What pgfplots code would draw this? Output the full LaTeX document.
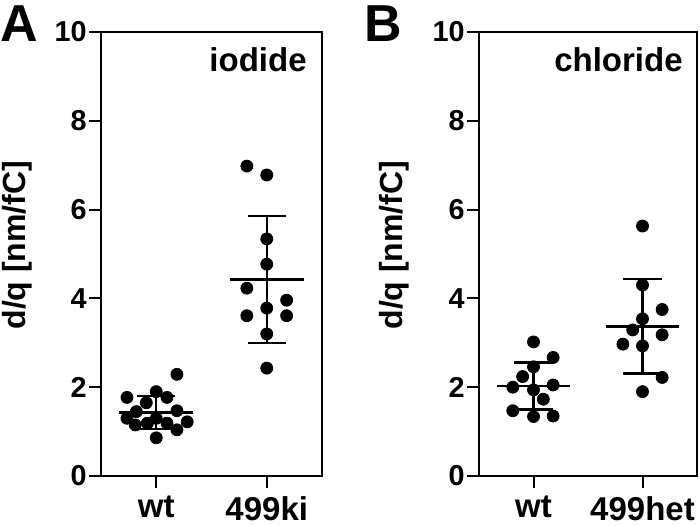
\documentclass[border=0pt]{standalone}
\usepackage{fontspec}
\setmainfont{Liberation Sans}
\usepackage{pgfplots}
\pgfplotsset{compat=1.18}
\begin{document}
\begin{tikzpicture}
\useasboundingbox (0,0) rectangle (350pt,262.5pt);
\pgfplotsset{
 panel/.style={
  scale only axis, width=110.5pt, height=222pt,
  xmin=-0.5, xmax=1.5, ymin=0, ymax=10,
  xtick={0,1}, ytick={0,2,4,6,8,10},
  tick align=outside, major tick length=6pt, tick pos=left,
  axis line style={line width=1pt}, every tick/.style={line width=1pt,black},
  /pgf/number format/assume math mode=true,
  yticklabel style={font=\fontsize{14.4}{16}\selectfont\bfseries, inner sep=1pt},
  xticklabel style={font=\fontsize{16.5}{18}\selectfont\bfseries, inner sep=1pt, yshift=-3pt},
  clip=false, anchor=south west,
 },
 mline/.style={black, line width=1.2pt, forget plot},
 dots/.style={only marks, mark=*, mark size=3pt, black, mark options={draw=black,fill=black}},
}
% Panel A
\begin{axis}[panel, at={(50.5pt,24.5pt)}, xticklabels={wt,499ki}]
\addplot[mline] coordinates {(-0.335,1.43) (0.335,1.43)};
\addplot[mline] coordinates {(0,1.06) (0,1.80)};
\addplot[mline] coordinates {(-0.17,1.80) (0.17,1.80)};
\addplot[mline] coordinates {(-0.17,1.06) (0.17,1.06)};
\addplot[mline] coordinates {(0.665,4.43) (1.335,4.43)};
\addplot[mline] coordinates {(1,3.00) (1,5.86)};
\addplot[mline] coordinates {(0.83,5.86) (1.17,5.86)};
\addplot[mline] coordinates {(0.83,3.00) (1.17,3.00)};
\addplot[dots] coordinates {
(0.187,2.29) (0,1.90) (-0.265,1.77) (0.097,1.77) (-0.09,1.65)
(-0.18,1.45) (0.187,1.47) (-0.265,1.30) (0.28,1.22) (-0.19,1.15)
(-0.08,1.19) (0,1.30) (0.097,1.19) (0.187,1.04) (0,0.86)};
\addplot[dots] coordinates {
(0.82,6.98) (1,6.78) (1,5.34) (1,4.77) (0.82,4.23) (1.18,3.96)
(1,3.78) (0.82,3.61) (1.18,3.61) (1,3.20) (1,2.43)};
\node[anchor=north east, inner sep=0pt, font=\fontsize{16.5}{18}\selectfont\bfseries] at (rel axis cs:1,1) [xshift=-7.5pt, yshift=-7.5pt] {iodide};
\node[xshift=-34pt, rotate=90, anchor=south, inner sep=0pt, font=\fontsize{16}{18}\selectfont\bfseries] at (rel axis cs:0,0.52) {d/q [nm/fC]};
\end{axis}
% Panel B
\begin{axis}[panel, at={(239.5pt,24.5pt)}, width=109pt, xticklabels={wt,499het}]
\addplot[mline] coordinates {(-0.335,2.03) (0.335,2.03)};
\addplot[mline] coordinates {(0,1.50) (0,2.56)};
\addplot[mline] coordinates {(-0.175,2.56) (0.175,2.56)};
\addplot[mline] coordinates {(-0.175,1.50) (0.175,1.50)};
\addplot[mline] coordinates {(0.665,3.37) (1.335,3.37)};
\addplot[mline] coordinates {(1,2.31) (1,4.44)};
\addplot[mline] coordinates {(0.825,4.44) (1.175,4.44)};
\addplot[mline] coordinates {(0.825,2.31) (1.175,2.31)};
\addplot[dots] coordinates {
(0,3.02) (0.18,2.67) (0,2.46) (-0.1,2.24) (-0.19,2.00) (0,1.94)
(0.18,2.05) (0.09,1.73) (-0.19,1.47) (0,1.34) (0.18,1.35)};
\addplot[dots] coordinates {
(1,5.63) (1,4.30) (1.18,3.75) (1,3.54) (0.91,3.29) (1.18,3.18)
(0.82,2.97) (1,2.93) (1.18,2.22) (1,1.90)};
\node[anchor=north east, inner sep=0pt, font=\fontsize{16.5}{18}\selectfont\bfseries] at (rel axis cs:1,1) [xshift=-7pt, yshift=-7.5pt] {chloride};
\node[xshift=-34.5pt, rotate=90, anchor=south, inner sep=0pt, font=\fontsize{16}{18}\selectfont\bfseries] at (rel axis cs:0,0.52) {d/q [nm/fC]};
\end{axis}
\node[inner sep=0pt, font=\fontsize{26}{28}\selectfont\bfseries] at (9.5pt,250.5pt) {A};
\node[inner sep=0pt, font=\fontsize{26}{28}\selectfont\bfseries] at (191.75pt,250.5pt) {B};
\end{tikzpicture}
\end{document}
